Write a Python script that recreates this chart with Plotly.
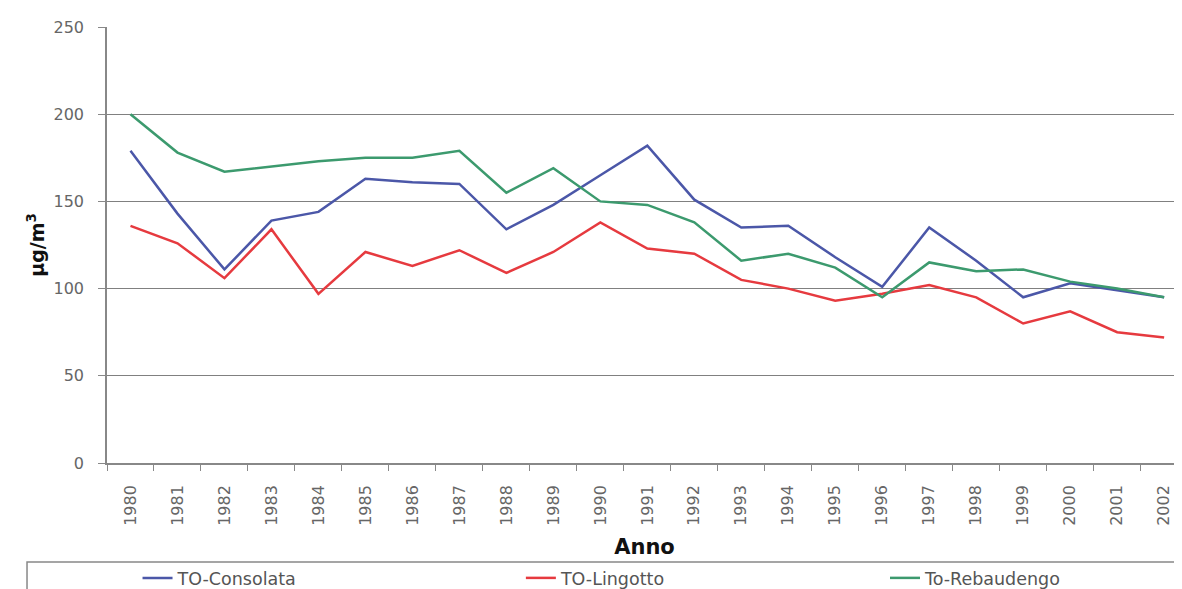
import plotly.graph_objects as go

years = [str(y) for y in range(1980, 2003)]
consolata = [179, 143, 111, 139, 144, 163, 161, 160, 134, 148, 165, 182, 151, 135, 136, 118, 101, 135, 116, 95, 103, 99, 95]
lingotto = [136, 126, 106, 134, 97, 121, 113, 122, 109, 121, 138, 123, 120, 105, 100, 93, 97, 102, 95, 80, 87, 75, 72]
rebaudengo = [200, 178, 167, 170, 173, 175, 175, 179, 155, 169, 150, 148, 138, 116, 120, 112, 95, 115, 110, 111, 104, 100, 95]

names = ["TO-Consolata", "TO-Lingotto", "To-Rebaudengo"]
colors = ["#4B57A8", "#E63A3F", "#3C9A6E"]
series = [consolata, lingotto, rebaudengo]
legend_ids = ["legend", "legend2", "legend3"]
legend_x = [0.0284, 0.385, 0.7237]

FONT = "DejaVu Sans"

fig = go.Figure()
for name, vals, col, lid in zip(names, series, colors, legend_ids):
    fig.add_trace(go.Scatter(x=years, y=vals, mode="lines", name=name,
                             line=dict(color=col, width=2.5), legend=lid))

legend_common = dict(orientation="h", yanchor="top", xanchor="left",
                     bgcolor="rgba(0,0,0,0)", borderwidth=0,
                     font=dict(family=FONT, size=17.5, color="#555"),
                     itemwidth=30, tracegroupgap=0)

layout_legends = {}
for lid, lx in zip(legend_ids, legend_x):
    layout_legends[lid] = dict(legend_common, x=lx, y=-0.2225)

fig.update_layout(
    width=1174, height=581,
    margin=dict(l=99, r=0, t=19, b=126, autoexpand=False),
    paper_bgcolor="white", plot_bgcolor="white",
    font=dict(family=FONT, color="#555"),
    showlegend=True,
    **layout_legends,
    xaxis=dict(
        type="category", range=[-0.5, 22.38],
        tickson="boundaries", ticks="outside", ticklen=6, tickcolor="#888",
        tickangle=-90, tickfont=dict(family=FONT, size=16, color="#666"),
        ticklabelstandoff=14,
        showline=True, linecolor="#888", linewidth=1.5, showgrid=False,
        title=dict(text="<b>Anno</b>", font=dict(family=FONT, size=21, color="#111"), standoff=14),
    ),
    yaxis=dict(
        range=[0, 250], dtick=50, tick0=0,
        ticks="outside", ticklen=7, tickcolor="#888",
        tickfont=dict(family=FONT, size=16, color="#666"),
        ticklabelstandoff=11,
        showline=True, linecolor="#888", linewidth=1.5,
        showgrid=True, gridcolor="#808080", gridwidth=1.3, zeroline=False,
        title=dict(text="<b>µg/m<sup>3</sup></b>", font=dict(family=FONT, size=19, color="#111"), standoff=4),
    ),
    shapes=[dict(type="rect", xref="paper", yref="paper",
                 x0=-0.0744, x1=0.9963, y0=-0.32, y1=-0.227,
                 line=dict(color="#888", width=1.5), fillcolor="rgba(0,0,0,0)")],
)

fig.write_html("out.html")
